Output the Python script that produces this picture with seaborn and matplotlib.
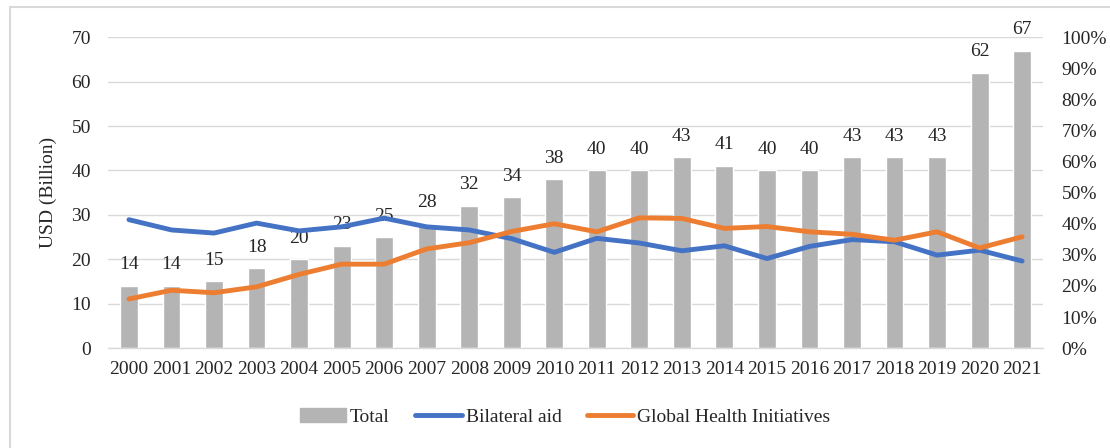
import matplotlib
matplotlib.use("Agg")
import matplotlib.pyplot as plt
from matplotlib.lines import Line2D
from matplotlib.patches import Patch
from matplotlib.ticker import PercentFormatter, FixedLocator
import numpy as np
import pandas as pd
import seaborn as sns

# data
years = [str(y) for y in range(2000, 2022)]
total = [14, 14, 15, 18, 20, 23, 25, 28, 32, 34, 38, 40, 40, 43, 41, 40, 40, 43, 43, 43, 62, 67]
bilateral = [41.3, 38.0, 37.0, 40.2, 37.7, 39.0, 41.8, 39.0, 38.0, 35.2, 30.8, 35.3, 33.8, 31.3, 32.9,
             28.8, 32.7, 34.9, 34.2, 29.9, 31.5, 28.0]
ghi = [15.8, 18.6, 17.8, 19.7, 23.7, 27.0, 27.0, 31.9, 33.9, 37.5, 40.0, 37.4, 41.9, 41.7, 38.5,
       39.1, 37.4, 36.6, 34.7, 37.4, 32.2, 35.8]

df = pd.DataFrame({"year": years, "total": total,
                   "bilateral": np.array(bilateral) / 100, "ghi": np.array(ghi) / 100})
df["pos"] = np.arange(len(df))

sns.set_theme(style="white")
plt.rcParams["font.family"] = ["Liberation Serif", "DejaVu Serif"]

GRAY = "#b4b4b4"
BLUE = "#4472c4"
ORANGE = "#ed7d31"
GRID = "#d9d9d9"
FS = 14

fig = plt.figure(figsize=(11.1, 4.48), dpi=100)
ax = fig.add_axes([0.097, 0.223, 0.843, 0.694])

sns.barplot(data=df, x="year", y="total", color=GRAY, width=0.42, saturation=1, ax=ax)
ax.bar_label(ax.containers[0], fontsize=FS, padding=9)

ax.set_ylim(0, 70)
ax.set_yticks(range(0, 71, 10))
ax.set_xlim(-0.5, len(years) - 0.5)
ax.yaxis.grid(True, color=GRID, lw=1)
ax.set_axisbelow(True)
for s in ["top", "right", "left"]:
    ax.spines[s].set_visible(False)
ax.spines["bottom"].set_color(GRID)
ax.spines["bottom"].set_linewidth(1)
ax.tick_params(axis="y", length=0, pad=12, labelsize=FS)
ax.tick_params(axis="x", which="major", length=0, pad=9, labelsize=FS)
ax.xaxis.set_minor_locator(FixedLocator(np.arange(-0.5, len(years), 1)))
ax.tick_params(axis="x", which="minor", length=5, color=GRID, width=1)
ax.set_xlabel("")
ax.set_ylabel("USD (Billion)", fontsize=FS, labelpad=10)

ax2 = ax.twinx()
sns.lineplot(data=df, x="pos", y="bilateral", color=BLUE, lw=3.5, ax=ax2)
sns.lineplot(data=df, x="pos", y="ghi", color=ORANGE, lw=3.5, ax=ax2)
ax2.set_ylim(0, 1)
ax2.set_yticks(np.arange(0, 1.01, 0.1))
ax2.yaxis.set_major_formatter(PercentFormatter(1.0, decimals=0))
ax2.tick_params(axis="y", length=0, pad=13, labelsize=FS)
ax2.set_ylabel("")
ax2.set_xlabel("")
for s in ax2.spines.values():
    s.set_visible(False)
ax2.grid(False)
ax.set_xlim(-0.5, len(years) - 0.5)

handles = [Patch(color=GRAY), Line2D([], [], color=BLUE, lw=3.5, solid_capstyle="round"),
           Line2D([], [], color=ORANGE, lw=3.5, solid_capstyle="round")]
fig.legend(handles, ["Total", "Bilateral aid", "Global Health Initiatives"],
           loc="center", bbox_to_anchor=(0.509, 0.069), ncol=3, frameon=False,
           fontsize=FS, handlelength=2.4, handletextpad=0.2, columnspacing=1.3)

# light frame edges visible in the screenshot
fig.add_artist(Line2D([0.009, 0.009], [0.0, 0.984], color=GRID, lw=1.5, transform=fig.transFigure))
fig.add_artist(Line2D([0.009, 1.0], [0.984, 0.984], color=GRID, lw=1.5, transform=fig.transFigure))

fig.savefig("out.png", dpi=100)
